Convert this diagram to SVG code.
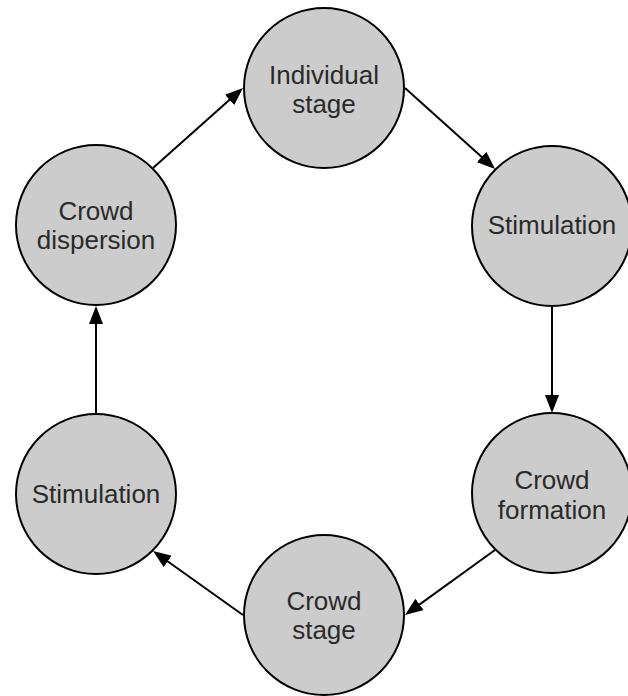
<svg xmlns="http://www.w3.org/2000/svg" width="628" height="696" viewBox="0 0 628 696">
<style>
.node circle{fill:#cccccc;stroke:#000;stroke-width:2}
.node text{font-family:"Liberation Sans",Arial,sans-serif;font-size:26px;fill:#2a2a2a;text-anchor:middle}
.edges line{stroke:#000;stroke-width:2;marker-end:url(#arrow)}
</style>
<defs>
<marker id="arrow" markerUnits="userSpaceOnUse" markerWidth="18" markerHeight="14" viewBox="0 0 18 14" refX="8" refY="7" orient="auto">
<path d="M0,0 L18,7 L0,14 z" fill="#000"/>
</marker>
</defs>
<rect width="628" height="696" fill="#fff"/>
<g class="edges">
<line x1="405" y1="88" x2="487.6" y2="162.3"/>
<line x1="552" y1="306" x2="552" y2="403"/>
<line x1="495" y1="550" x2="413.1" y2="609.1"/>
<line x1="243" y1="615" x2="161.2" y2="556.8"/>
<line x1="96" y1="413" x2="96" y2="316"/>
<line x1="153" y1="168" x2="235.5" y2="94.6"/>
</g>
<g id="individual-stage" class="node"><circle cx="324" cy="88" r="80"/><text x="324" y="84">Individual</text><text x="324" y="113">stage</text></g>
<g id="stimulation-right" class="node"><circle cx="552" cy="226" r="80"/><text x="552" y="234">Stimulation</text></g>
<g id="crowd-formation" class="node"><circle cx="552" cy="493" r="80"/><text x="552" y="489">Crowd</text><text x="552" y="519">formation</text></g>
<g id="crowd-stage" class="node"><circle cx="324" cy="615" r="80"/><text x="324" y="610">Crowd</text><text x="324" y="639">stage</text></g>
<g id="stimulation-left" class="node"><circle cx="96" cy="494" r="80"/><text x="96" y="503">Stimulation</text></g>
<g id="crowd-dispersion" class="node"><circle cx="96" cy="225" r="80"/><text x="96" y="220">Crowd</text><text x="96" y="249">dispersion</text></g>
</svg>
